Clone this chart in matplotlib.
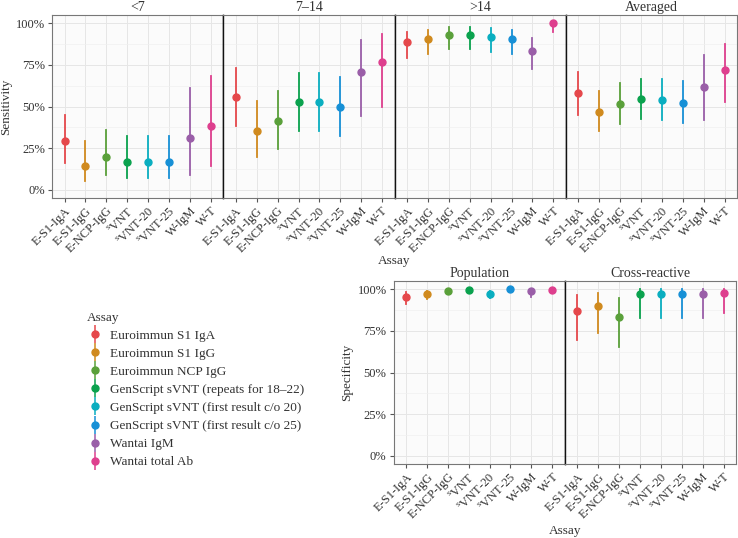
import numpy as np
import matplotlib
matplotlib.use("Agg")
import matplotlib.pyplot as plt
from matplotlib.ticker import FuncFormatter, MultipleLocator

plt.rcParams["font.family"] = ["Liberation Serif", "DejaVu Serif"]
plt.rcParams["mathtext.fontset"] = "custom"
plt.rcParams["mathtext.rm"] = "Liberation Serif"

assays = ["Euroimmun S1 IgA", "Euroimmun S1 IgG", "Euroimmun NCP IgG",
          "GenScript sVNT (repeats for 18–22)", "GenScript sVNT (first result c/o 20)",
          "GenScript sVNT (first result c/o 25)", "Wantai IgM", "Wantai total Ab"]
short = ["E-S1-IgA", "E-S1-IgG", "E-NCP-IgG", r"$^\mathrm{s}$VNT", r"$^\mathrm{s}$VNT-20",
         r"$^\mathrm{s}$VNT-25", "W-IgM", "W-T"]
colors = ["#E5484B", "#D08A1E", "#5AA03A", "#0AA24E", "#0AAEC0", "#1790D6", "#9A5EA8", "#DE3F8E"]

# sensitivity by days since symptom onset (estimate, lower, upper)
sens_panels = ["<7", "7–14", ">14", "Averaged"]
sens_est = [[0.292, 0.144, 0.198, 0.168, 0.168, 0.168, 0.308, 0.384],
            [0.560, 0.354, 0.412, 0.530, 0.530, 0.500, 0.706, 0.766],
            [0.890, 0.904, 0.932, 0.932, 0.920, 0.904, 0.836, 1.000],
            [0.580, 0.466, 0.514, 0.544, 0.540, 0.524, 0.616, 0.718]]
sens_lo = [[0.160, 0.054, 0.090, 0.070, 0.070, 0.070, 0.090, 0.140],
           [0.380, 0.196, 0.246, 0.350, 0.350, 0.324, 0.440, 0.500],
           [0.794, 0.814, 0.846, 0.846, 0.830, 0.814, 0.724, 0.948],
           [0.446, 0.354, 0.394, 0.424, 0.416, 0.400, 0.420, 0.530]]
sens_hi = [[0.450, 0.290, 0.356, 0.320, 0.320, 0.320, 0.614, 0.684],
           [0.730, 0.536, 0.596, 0.704, 0.704, 0.676, 0.900, 0.934],
           [0.950, 0.960, 0.976, 0.976, 0.970, 0.960, 0.914, 1.000],
           [0.710, 0.594, 0.644, 0.666, 0.664, 0.654, 0.810, 0.874]]

# specificity
spec_panels = ["Population", "Cross-reactive"]
spec_est = [[0.952, 0.972, 0.990, 0.996, 0.972, 1.000, 0.990, 0.996],
            [0.868, 0.902, 0.836, 0.970, 0.970, 0.970, 0.970, 0.976]]
spec_lo = [[0.910, 0.940, 0.970, 0.980, 0.950, 0.990, 0.952, 0.980],
           [0.696, 0.736, 0.656, 0.830, 0.830, 0.830, 0.830, 0.856]]
spec_hi = [[0.985, 0.992, 1.000, 1.000, 0.990, 1.000, 1.000, 1.000],
           [0.966, 0.980, 0.946, 1.000, 1.000, 1.000, 1.000, 1.000]]

W, H = 738, 538
fig = plt.figure(figsize=(W / 100, H / 100), dpi=100, facecolor="white")
pct = FuncFormatter(lambda v, p: f"{v*100:.0f}%")
TXT = "#333333"


def panel(rect, title, est, lo, hi, first, last):
    l, t, w, h = rect
    ax = fig.add_axes([l / W, (H - t - h) / H, w / W, h / H])
    ax.set_facecolor("#FBFBFB")
    x = np.arange(len(est))
    for i in x:
        ax.plot([i, i], [lo[i], hi[i]], color=colors[i], lw=1.3, zorder=3)
        ax.plot(i, est[i], "o", color=colors[i], ms=5, zorder=4)
    ax.set_xlim(-0.6, 7.6)
    ax.set_ylim(-0.05, 1.05)
    ax.yaxis.set_major_locator(MultipleLocator(0.25))
    ax.yaxis.set_minor_locator(MultipleLocator(0.125))
    ax.yaxis.set_major_formatter(pct)
    ax.set_xticks(x)
    ax.set_xticklabels(short, rotation=45, ha="right", rotation_mode="anchor",
                       fontsize=9, color=TXT)
    ax.grid(True, which="major", color="#E6E6E6", lw=0.7)
    ax.grid(True, which="minor", axis="y", color="#F0F0F0", lw=0.5)
    ax.set_axisbelow(True)
    ax.tick_params(axis="both", which="major", length=3, color="#555555",
                   labelsize=9, labelcolor=TXT, pad=2)
    ax.tick_params(axis="y", which="minor", length=0)
    if not first:
        ax.tick_params(axis="y", which="both", left=False, labelleft=False)
    for s in ax.spines.values():
        s.set_color("#777777"); s.set_linewidth(0.8)
    if not first:
        ax.spines["left"].set_color("#111111"); ax.spines["left"].set_linewidth(1.0)
    if not last:
        ax.spines["right"].set_color("#111111"); ax.spines["right"].set_linewidth(1.0)
    ax.set_title(title, fontsize=10, color=TXT, pad=3)
    return ax


pw = 171.3
for k, name in enumerate(sens_panels):
    ax = panel((52 + k * pw, 15, pw, 183), name, sens_est[k], sens_lo[k], sens_hi[k],
               k == 0, k == len(sens_panels) - 1)
    if k == 0:
        ax.set_ylabel("Sensitivity", fontsize=9.5, color=TXT, labelpad=3)

for k, name in enumerate(spec_panels):
    ax = panel((393.5 + k * pw, 281, pw, 183), name, spec_est[k], spec_lo[k], spec_hi[k],
               k == 0, k == len(spec_panels) - 1)
    if k == 0:
        ax.set_ylabel("Specificity", fontsize=9.5, color=TXT, labelpad=3)

fig.text(394.5 / W, 1 - 261 / H, "Assay", ha="center", va="center", fontsize=9.5, color=TXT)
fig.text(565 / W, 1 - 531 / H, "Assay", ha="center", va="center", fontsize=9.5, color=TXT)

# legend: point + vertical range keys
handles = []
for c in colors:
    h = plt.Line2D([], [], color=c, marker="o", ms=5, lw=0)
    v = plt.Line2D([], [], color=c, marker="|", ms=13, mew=1.1, lw=0)
    handles.append((v, h))
leg = fig.legend(handles, assays, loc="upper left", bbox_to_anchor=(75 / W, 1 - 300 / H),
                 title="Assay", frameon=False, fontsize=9.5, title_fontsize=9.5,
                 labelspacing=0.44, handlelength=1.2, handletextpad=0.55,
                 alignment="left")
for t in leg.get_texts():
    t.set_color(TXT)
leg.get_title().set_color(TXT)

fig.savefig("out.png", dpi=100, facecolor="white")
